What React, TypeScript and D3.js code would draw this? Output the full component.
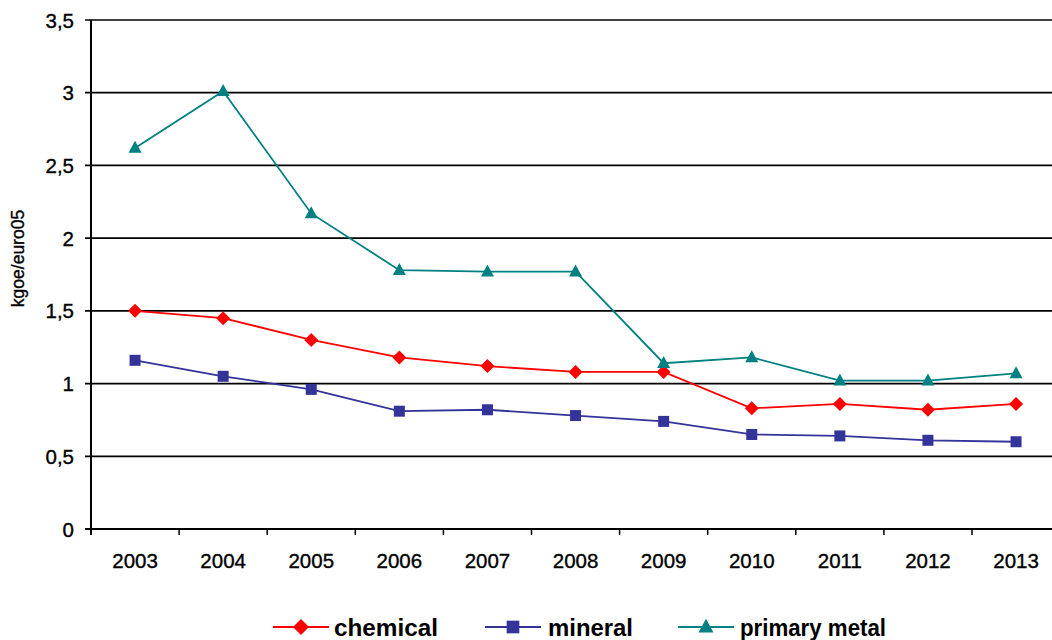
import React from "react";
import * as d3 from "d3";

const years = ["2003", "2004", "2005", "2006", "2007", "2008", "2009", "2010", "2011", "2012", "2013"];
const chemical = [1.5, 1.45, 1.3, 1.18, 1.12, 1.08, 1.08, 0.83, 0.86, 0.82, 0.86];
const mineral = [1.16, 1.05, 0.96, 0.81, 0.82, 0.78, 0.74, 0.65, 0.64, 0.61, 0.6];
const primaryMetal = [2.62, 3.01, 2.17, 1.78, 1.77, 1.77, 1.14, 1.18, 1.02, 1.02, 1.07];
const yTicks = [0, 0.5, 1, 1.5, 2, 2.5, 3, 3.5];

const series = [
  { name: "chemical", values: chemical, color: "#FF0000", marker: "diamond" },
  { name: "mineral", values: mineral, color: "#333399", marker: "square" },
  { name: "primary metal", values: primaryMetal, color: "#008080", marker: "triangle" },
];

const W = 1052;
const H = 640;
const left = 91;
const top = 20;
const bottom = 529;
const bandW = 88.1;

const FONT = "'Liberation Sans', Arial, sans-serif";

function Marker({ kind, x, y, color, k = 1 }: { kind: string; x: number; y: number; color: string; k?: number }) {
  if (kind === "diamond") {
    const r = 7 * k;
    return <path d={`M${x},${y - r}L${x + r},${y}L${x},${y + r}L${x - r},${y}Z`} fill={color} />;
  }
  if (kind === "square") {
    const s = 11 * k;
    return <rect x={x - s / 2} y={y - s / 2} width={s} height={s} fill={color} />;
  }
  const h = 12 * k;
  const w = 13 * k;
  return <path d={`M${x},${y - h * 0.6}L${x + w / 2},${y + h * 0.4}L${x - w / 2},${y + h * 0.4}Z`} fill={color} />;
}

export default function App() {
  const x = d3.scaleBand<string>().domain(years).range([left, left + bandW * years.length]);
  const y = d3.scaleLinear().domain([0, 3.5]).range([bottom, top]);
  const cx = (d: string) => (x(d) as number) + x.bandwidth() / 2;
  const line = d3
    .line<number>()
    .x((_, i) => cx(years[i]))
    .y((v) => y(v));

  const legendItems = [
    { s: series[0], lx: 273, tx: 334, tw: 104 },
    { s: series[1], lx: 485, tx: 548, tw: 85 },
    { s: series[2], lx: 678, tx: 740, tw: 146 },
  ];

  return (
    <svg width={W} height={H} style={{ position: "absolute", left: 0, top: 0, background: "#fff" }} fontFamily={FONT}>
      {/* horizontal gridlines */}
      {yTicks.map((t) => (
        <line key={t} x1={left - 6} x2={W} y1={y(t)} y2={y(t)} stroke="#000" strokeWidth={t === 0 ? 2 : 1.7} />
      ))}
      {/* y axis */}
      <line x1={left} x2={left} y1={top} y2={bottom + 6} stroke="#000" strokeWidth={2} />
      {/* x ticks at band boundaries */}
      {years.map((d, i) => (
        <line key={d} x1={left + bandW * (i + 1)} x2={left + bandW * (i + 1)} y1={bottom} y2={bottom + 6} stroke="#000" strokeWidth={1.5} />
      ))}
      <g fill="#000" stroke="#000" strokeWidth={0.35}>
        {/* y tick labels */}
        {yTicks.map((t) => (
          <text key={t} x={74} y={y(t) + 7.5} textAnchor="end" fontSize={20.5}>
            {String(t).replace(".", ",")}
          </text>
        ))}
        {/* x tick labels */}
        {years.map((d) => (
          <text key={d} x={cx(d)} y={568} textAnchor="middle" fontSize={20.5}>
            {d}
          </text>
        ))}
        <text transform="translate(24,258.5) rotate(-90)" textAnchor="middle" fontSize={17.5}>
          kgoe/euro05
        </text>
      </g>
      {/* series */}
      {series.map((s) => (
        <g key={s.name}>
          <path d={line(s.values) ?? ""} fill="none" stroke={s.color} strokeWidth={1.8} />
          {s.values.map((v, i) => (
            <Marker key={i} kind={s.marker} x={cx(years[i])} y={y(v)} color={s.color} />
          ))}
        </g>
      ))}
      {/* legend */}
      {legendItems.map(({ s, lx, tx, tw }) => (
        <g key={s.name}>
          <line x1={lx} x2={lx + 56} y1={627} y2={627} stroke={s.color} strokeWidth={2} />
          <Marker kind={s.marker} x={lx + 28} y={627} color={s.color} k={1.15} />
          <text x={tx} y={636} fontSize={24} fontWeight="bold" fill="#000" textLength={tw} lengthAdjust="spacingAndGlyphs">
            {s.name}
          </text>
        </g>
      ))}
    </svg>
  );
}
